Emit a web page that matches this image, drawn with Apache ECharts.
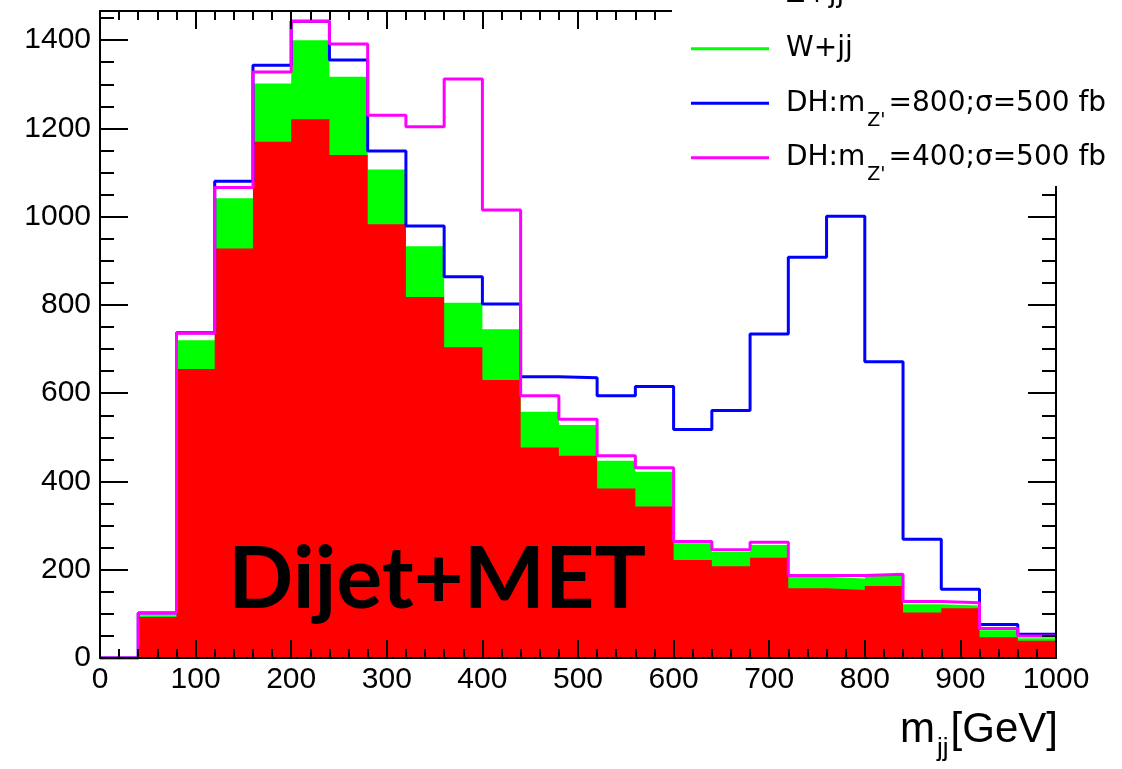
<!DOCTYPE html>
<html>
<head>
<meta charset="utf-8">
<script src="https://cdn.jsdelivr.net/npm/echarts@6/dist/echarts.min.js"></script>
<style>
  html, body { margin: 0; padding: 0; background: #fff; }
  #chart { width: 1122px; height: 769px; }
</style>
</head>
<body>
<div id="chart"></div>
<script>
// bin edges in GeV (25 bins of 40 GeV)
var binEdges = [0, 40, 80, 120, 160, 200, 240, 280, 320, 360, 400, 440, 480, 520,
  560, 600, 640, 680, 720, 760, 800, 840, 880, 920, 960, 1000];

// background, stacked: Z+jj at the bottom, W+jj on top
var zjj = [0, 93, 655, 928, 1170, 1221, 1140, 983, 818, 704, 630, 477, 458, 384,
  343, 222, 208, 227, 158, 154, 163, 103, 113, 47, 39];
var wjj = [0, 4, 65, 114, 132, 179, 177, 124, 115, 101, 115, 81, 70, 63,
  79, 38, 32, 29, 26, 26, 23, 19, 6, 16, 6];

// signal + background totals
var dh800 = [0, 102, 737, 1080, 1343, 1443, 1355, 1149, 979, 864, 802, 637, 635, 594,
  615, 518, 561, 734, 908, 1001, 671, 269, 156, 76, 54];
var dh400 = [0, 102, 736, 1066, 1328, 1443, 1391, 1230, 1204, 1312, 1015, 594, 541, 458,
  431, 264, 245, 262, 187, 187, 190, 128, 125, 67, 50];

var names = ['Z+jj', 'W+jj', 'DH800', 'DH400'];
var legendText = {
  'Z+jj': 'Z+jj',
  'W+jj': 'W+jj',
  'DH800': '{n|DH:m}{s|Z\'}{n|=800;σ=500 fb}',
  'DH400': '{n|DH:m}{s|Z\'}{n|=400;σ=500 fb}'
};

// histogram -> points at left bin edges, closed at the last edge
function steps(vals) {
  var pts = [];
  for (var i = 0; i < vals.length; i++) pts.push([binEdges[i], vals[i]]);
  pts.push([binEdges[binEdges.length - 1], vals[vals.length - 1]]);
  return pts;
}
var bkgTotal = zjj.map(function (v, i) { return v + wjj[i]; });

var font = '"Liberation Sans", Arial, sans-serif';
var lgFont = '"DejaVu Sans", sans-serif';
var chart = echarts.init(document.getElementById('chart'));

function plain(v) { return String(v); }

function xAx(pos, labels) {
  return {
    type: 'value', position: pos, min: 0, max: 1000, interval: 100, z: 10,
    axisLine: { show: true, onZero: false, lineStyle: { color: '#000', width: 2 } },
    axisTick: { show: true, inside: true, length: 18, lineStyle: { color: '#000', width: 2 } },
    minorTick: { show: true, splitNumber: 5, length: 9, lineStyle: { color: '#000', width: 2 } },
    splitLine: { show: false },
    axisLabel: { show: labels, color: '#000', fontFamily: font, fontSize: 30, margin: 7, formatter: plain }
  };
}
function yAx(pos, major) {
  return {
    type: 'value', position: pos, min: 0, max: 1466, interval: major ? 200 : 50, z: 10,
    axisLine: { show: major, onZero: false, lineStyle: { color: '#000', width: 2 } },
    axisTick: { show: true, inside: true, length: major ? 28 : 14, lineStyle: { color: '#000', width: 2 } },
    splitLine: { show: false },
    axisLabel: { show: major && pos === 'left', showMaxLabel: false, color: '#000',
      fontFamily: font, fontSize: 30, margin: 9, formatter: plain }
  };
}

function stepSeries(name, data, color, fill) {
  var s = {
    name: name, type: 'line', step: 'end', data: data, symbol: 'none',
    xAxisIndex: 0, yAxisIndex: 0, animation: false,
    lineStyle: { color: color, width: 3, opacity: fill ? 0 : 1 },
    itemStyle: { color: color }
  };
  if (fill) s.areaStyle = { color: color, opacity: 1 };
  return s;
}

chart.setOption({
  backgroundColor: '#fff',
  animation: false,
  grid: { left: 100, right: 66, top: 11, bottom: 111 },
  xAxis: [xAx('bottom', true), xAx('top', false)],
  yAxis: [yAx('left', true), yAx('right', true), yAx('left', false), yAx('right', false)],
  legend: {
    orient: 'vertical', left: 672, top: -33,
    padding: [0, 20, 1, 19], itemGap: 0,
    itemWidth: 78, itemHeight: 3, icon: 'rect',
    backgroundColor: '#fff', z: 20,
    data: names,
    formatter: function (n) { return legendText[n]; },
    textStyle: {
      color: '#000', fontFamily: lgFont, fontSize: 28, lineHeight: 54.5, padding: [0, 0, 0, 12],
      rich: {
        n: { fontFamily: lgFont, fontSize: 28, lineHeight: 54.5, color: '#000' },
        s: { fontFamily: lgFont, fontSize: 19, lineHeight: 18, verticalAlign: 'bottom', color: '#000',
          padding: [0, 3, 0, 2] }
      }
    }
  },
  graphic: [
    {
      type: 'text', z: 30,
      x: 228, y: 580,
      style: { text: 'Dijet+MET', font: 'bold 86px Lato, sans-serif', fill: '#000',
        align: 'left', verticalAlign: 'middle' }
    },
    {
      type: 'text', z: 30,
      x: 1058, y: 730,
      style: {
        text: '{m|m}{s|jj}{m|[GeV]}', align: 'right', verticalAlign: 'middle',
        rich: {
          m: { fontFamily: font, fontSize: 42, lineHeight: 63, fill: '#000' },
          s: { fontFamily: font, fontSize: 26, lineHeight: 26, verticalAlign: 'bottom', fill: '#000',
            padding: [0, 2, 0, 2] }
        }
      }
    }
  ],
  series: [
    stepSeries('W+jj', steps(bkgTotal), '#00ff00', true),
    stepSeries('Z+jj', steps(zjj), '#ff0000', true),
    stepSeries('DH800', steps(dh800), '#0000ff', false),
    stepSeries('DH400', steps(dh400), '#ff00ff', false)
  ]
});
</script>
</body>
</html>
